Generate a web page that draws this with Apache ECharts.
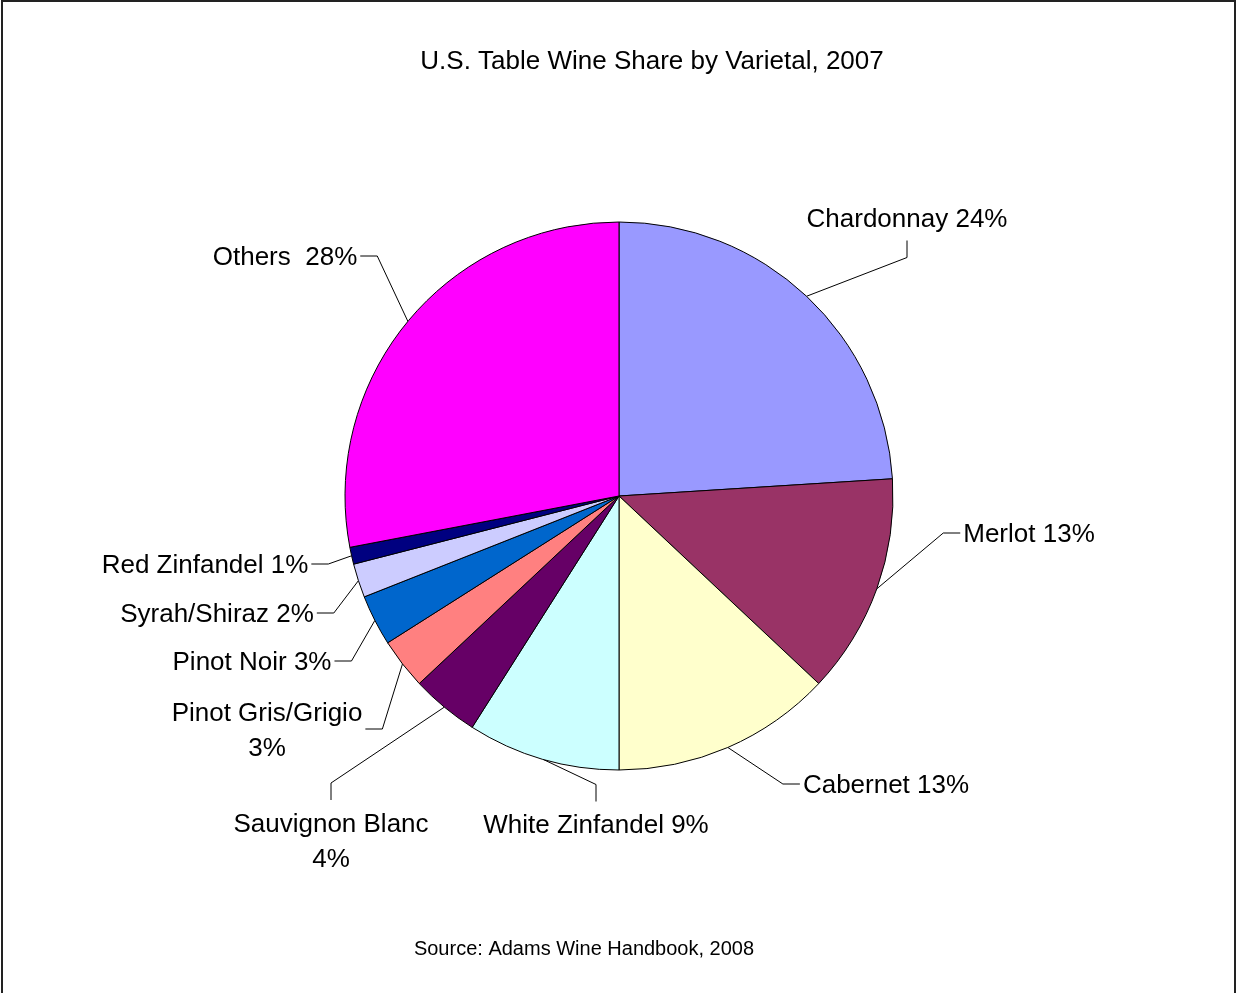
<!DOCTYPE html>
<html>
<head>
<meta charset="utf-8">
<title>U.S. Table Wine Share by Varietal, 2007</title>
<script src="https://cdn.jsdelivr.net/npm/echarts@6/dist/echarts.min.js"></script>
<style>
  html, body { margin: 0; padding: 0; background: #fff; }
  #chart { width: 1236px; height: 993px; }
</style>
</head>
<body>
<div id="chart"></div>
<script>
// Varietals, clockwise from 12 o'clock
const varietals = ['Chardonnay', 'Merlot', 'Cabernet', 'White Zinfandel', 'Sauvignon Blanc',
  'Pinot Gris/Grigio', 'Pinot Noir', 'Syrah/Shiraz', 'Red Zinfandel', 'Others'];
// Share of U.S. table wine volume, percent
const shares = [24, 13, 13, 9, 4, 3, 3, 2, 1, 28];
// Text placed between the varietal name and its share in each label
const labelJoins = [' ', ' ', ' ', ' ', '\n', '\n', ' ', ' ', ' ', '  '];

const sliceColors = ['#9999FF', '#993366', '#FFFFCC', '#CCFFFF', '#660066',
  '#FF8080', '#0066CC', '#CCCCFF', '#000080', '#FF00FF'];

// Label placement: text centre and the side of the label the leader line meets
const labelSpots = [
  { x: 907, y: 218, side: 'bottom' },
  { x: 1029, y: 533, side: 'left' },
  { x: 886, y: 784, side: 'left' },
  { x: 596, y: 824, side: 'top' },
  { x: 331, y: 840, side: 'top' },
  { x: 267, y: 729, side: 'right' },
  { x: 252, y: 661, side: 'right' },
  { x: 217, y: 613, side: 'right' },
  { x: 205, y: 564, side: 'right' },
  { x: 285, y: 256, side: 'right' }
];
const TEXT_DY = 2; // canvas 'middle' baseline sits a little high for capitals
const GAP_H = 3;   // space between text and a horizontal leader end
const GAP_V = 5;   // space between text and a vertical leader end
const ELBOW = 17;  // length of the leader segment next to the label

const FONT = '"Liberation Sans", Arial, Helvetica, sans-serif';

const chart = echarts.init(document.getElementById('chart'), null, { renderer: 'canvas' });

const option = {
  backgroundColor: '#ffffff',
  animation: false,
  graphic: [
    {
      type: 'rect',
      shape: { x: 2, y: 1, width: 1233, height: 1100 },
      style: { fill: 'none', stroke: '#222', lineWidth: 2 },
      silent: true
    },
    {
      type: 'text',
      x: 652, y: 60 + TEXT_DY,
      style: {
        text: 'U.S. Table Wine Share by Varietal, 2007',
        fontFamily: FONT, fontSize: 26, fill: '#000',
        align: 'center', verticalAlign: 'middle'
      }
    },
    {
      type: 'text',
      x: 584, y: 947 + TEXT_DY,
      style: {
        text: 'Source: Adams Wine Handbook, 2008',
        fontFamily: FONT, fontSize: 20, fill: '#000',
        align: 'center', verticalAlign: 'middle'
      }
    }
  ],
  series: [{
    type: 'pie',
    center: [619, 496],
    radius: 274,
    startAngle: 90,
    clockwise: true,
    avoidLabelOverlap: false,
    data: varietals.map((name, i) => ({
      name: name,
      value: shares[i],
      itemStyle: { color: sliceColors[i] }
    })),
    itemStyle: { borderColor: '#000', borderWidth: 1 },
    emphasis: { disabled: true },
    label: {
      show: true,
      position: 'outside',
      color: '#000',
      fontFamily: FONT,
      fontSize: 26,
      lineHeight: 35,
      align: 'center',
      formatter: p => p.name + labelJoins[p.dataIndex] + p.value + '%'
    },
    labelLine: {
      show: true,
      length: 15,
      length2: 15,
      minTurnAngle: 0,
      lineStyle: { color: '#000', width: 1 }
    },
    labelLayout: function (params) {
      const spot = labelSpots[params.dataIndex];
      const w = params.labelRect.width;
      const h = params.labelRect.height;
      let edge, elbow;
      if (spot.side === 'bottom') {
        edge = [spot.x, spot.y + h / 2 + GAP_V];
        elbow = [spot.x, edge[1] + ELBOW];
      } else if (spot.side === 'top') {
        edge = [spot.x, spot.y - h / 2 - GAP_V];
        elbow = [spot.x, edge[1] - ELBOW];
      } else if (spot.side === 'left') {
        edge = [spot.x - w / 2 - GAP_H, spot.y];
        elbow = [edge[0] - ELBOW, spot.y];
      } else {
        edge = [spot.x + w / 2 + GAP_H, spot.y];
        elbow = [edge[0] + ELBOW, spot.y];
      }
      const anchor = params.labelLinePoints ? params.labelLinePoints[0] : elbow;
      return {
        x: spot.x,
        y: spot.y + TEXT_DY,
        align: 'center',
        verticalAlign: 'middle',
        labelLinePoints: [anchor, elbow, edge]
      };
    }
  }]
};

chart.setOption(option);
</script>
</body>
</html>
